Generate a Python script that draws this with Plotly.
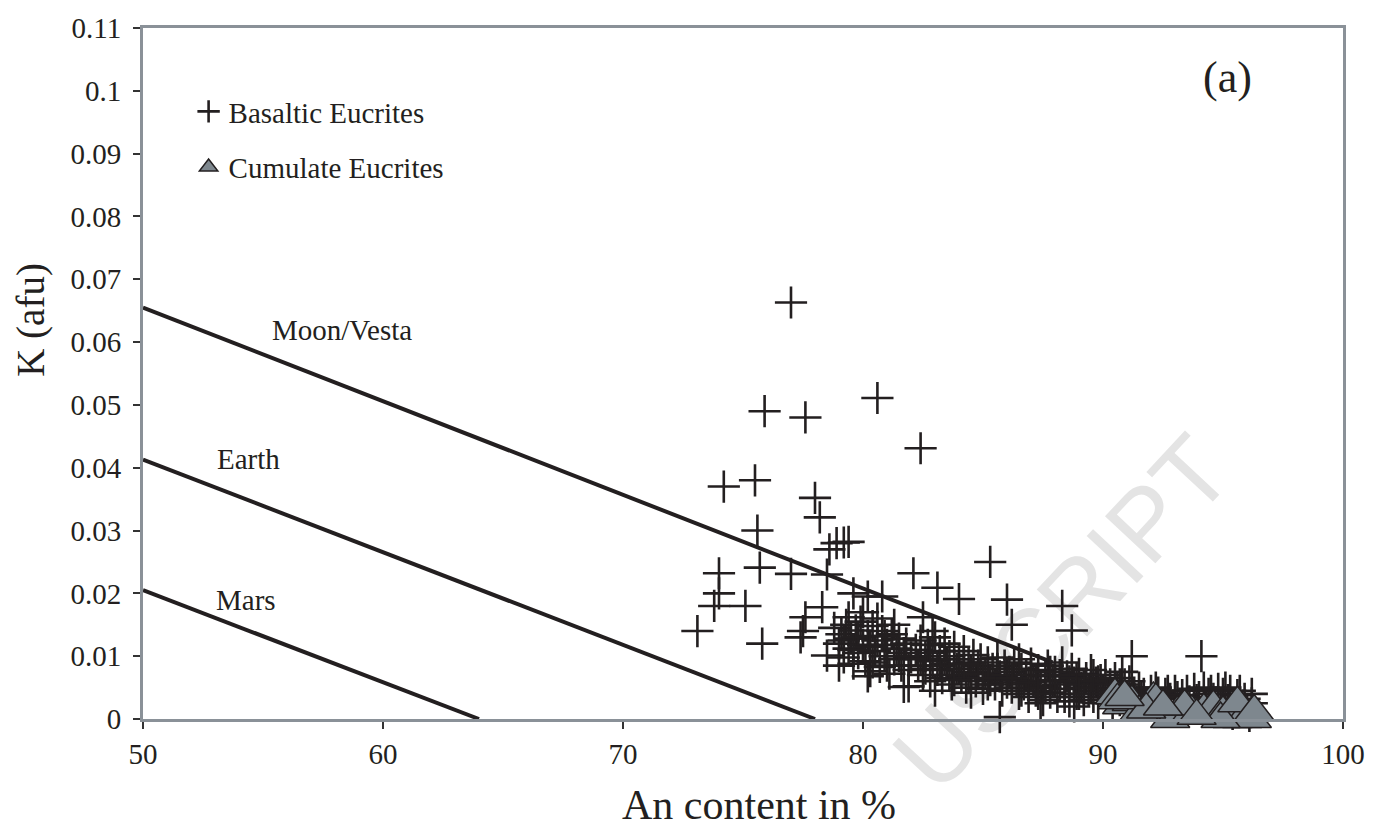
import plotly.graph_objects as go

# ---------------- data ----------------
basaltic_an = [
    # sparse outliers
    77.0, 75.9, 77.6, 80.6, 82.4, 74.2, 75.5, 78.0, 78.2, 75.6, 78.9, 79.2, 79.4, 78.6,
    75.7, 74.0, 77.0, 78.5, 82.1, 83.1, 84.0, 74.0, 73.8, 75.1, 73.1, 75.8, 77.6, 77.5,
    77.4, 78.3, 78.5, 82.5, 81.7, 81.9, 79.6, 80.2, 80.8, 85.3, 86.0, 86.2, 88.3, 88.7,
    91.2, 94.1, 85.7,
    # cluster 79-82
    78.8, 79.0, 79.1, 79.2, 79.3, 79.4, 79.5, 79.6, 79.7, 79.8, 79.9, 80.0, 80.1, 80.2,
    80.3, 80.4, 80.5, 80.6, 80.7, 80.8, 80.9, 81.0, 81.1, 81.2, 81.3, 81.4, 81.5, 81.6,
    81.7, 81.8, 81.9, 82.0, 79.4, 80.0, 80.6, 80.2, 79.0, 81.3,
    79.2, 79.8, 80.4, 80.9, 81.5, 81.0, 79.6, 80.3,
    # cluster 82-86
    82.2, 82.3, 82.4, 82.5, 82.6, 82.7, 82.8, 82.9, 83.0, 83.1, 83.2, 83.3, 83.4, 83.5,
    83.6, 83.7, 83.8, 83.9, 84.0, 84.1, 84.2, 84.3, 84.4, 84.5, 84.6, 84.7, 84.8, 84.9,
    85.0, 85.1, 85.2, 85.3, 85.4, 85.5, 85.6, 85.7, 85.8, 85.9, 86.0, 83.0, 84.5, 82.9,
    82.4, 82.8, 83.2, 83.6, 84.0, 84.4, 84.8, 85.2, 85.6, 86.0, 83.4, 84.2, 85.0, 83.8,
    82.6,
    # cluster 86-90
    86.1, 86.2, 86.3, 86.4, 86.5, 86.6, 86.7, 86.8, 86.9, 87.0, 87.1, 87.2, 87.3, 87.4,
    87.5, 87.6, 87.7, 87.8, 87.9, 88.0, 88.1, 88.2, 88.3, 88.4, 88.5, 88.6, 88.7, 88.8,
    88.9, 89.0, 89.1, 89.2, 89.3, 89.4, 89.5, 89.6, 89.7, 89.8, 89.9, 90.0, 86.5, 87.4,
    88.8,
    86.2, 86.6, 87.0, 87.2, 87.6, 88.0, 88.2, 88.6, 88.9, 89.2, 89.5, 89.8, 87.8, 86.9,
    88.4, 89.0, 89.6, 87.3,
    # cluster 90-96
    90.1, 90.2, 90.3, 90.4, 90.5, 90.6, 90.7, 90.8, 90.9, 91.0, 91.1, 91.3, 91.4, 91.5,
    91.7, 91.8, 92.0, 92.1, 92.3, 92.5, 92.6, 92.8, 93.0, 93.2, 93.3, 93.5, 93.6, 93.8,
    94.0, 94.2, 94.3, 94.5, 94.6, 94.8, 94.9, 95.0, 95.2, 95.3, 95.5, 95.6, 95.8, 95.9,
    96.0, 96.2, 96.1, 95.4,
    90.3, 90.7, 91.2, 91.6, 92.2, 92.7, 93.1, 93.9, 94.4, 95.1, 95.7, 96.2,
]
basaltic_k = [
    0.0663, 0.0490, 0.0480, 0.0511, 0.0431, 0.0370, 0.0380, 0.0352, 0.0321, 0.0300, 0.0280, 0.0281, 0.0282, 0.0270,
    0.0241, 0.0232, 0.0231, 0.0230, 0.0232, 0.0209, 0.0191, 0.0200, 0.0180, 0.0180, 0.0140, 0.0120, 0.0162, 0.0140,
    0.0130, 0.0178, 0.0101, 0.0162, 0.0051, 0.0052, 0.0200, 0.0195, 0.0195, 0.0250, 0.0190, 0.0150, 0.0180, 0.0141,
    0.0100, 0.0100, 0.0003,
    0.0145, 0.0120, 0.0135, 0.0098, 0.0150, 0.0112, 0.0128, 0.0088, 0.0141, 0.0105, 0.0155, 0.0118, 0.0092, 0.0132,
    0.0076, 0.0148, 0.0108, 0.0125, 0.0083, 0.0140, 0.0100, 0.0118, 0.0072, 0.0135, 0.0095, 0.0112, 0.0128, 0.0085,
    0.0105, 0.0120, 0.0078, 0.0098, 0.0162, 0.0170, 0.0160, 0.0068, 0.0085, 0.0150,
    0.0125, 0.0130, 0.0090, 0.0132, 0.0100, 0.0085, 0.0110, 0.0115,
    0.0110, 0.0085, 0.0125, 0.0070, 0.0100, 0.0118, 0.0060, 0.0092, 0.0130, 0.0078, 0.0108, 0.0065, 0.0120, 0.0088,
    0.0100, 0.0055, 0.0115, 0.0080, 0.0095, 0.0068, 0.0108, 0.0050, 0.0090, 0.0075, 0.0102, 0.0060, 0.0085, 0.0095,
    0.0048, 0.0072, 0.0090, 0.0062, 0.0080, 0.0055, 0.0098, 0.0068, 0.0045, 0.0085, 0.0058, 0.0045, 0.0042, 0.0140,
    0.0095, 0.0105, 0.0085, 0.0070, 0.0080, 0.0065, 0.0072, 0.0055, 0.0080, 0.0070, 0.0095, 0.0088, 0.0065, 0.0062,
    0.0080,
    0.0075, 0.0050, 0.0090, 0.0062, 0.0040, 0.0080, 0.0055, 0.0070, 0.0035, 0.0088, 0.0060, 0.0045, 0.0078, 0.0052,
    0.0030, 0.0068, 0.0085, 0.0042, 0.0062, 0.0075, 0.0035, 0.0055, 0.0090, 0.0048, 0.0068, 0.0028, 0.0080, 0.0058,
    0.0040, 0.0072, 0.0050, 0.0030, 0.0065, 0.0045, 0.0078, 0.0035, 0.0058, 0.0025, 0.0062, 0.0045, 0.0095, 0.0025,
    0.0020,
    0.0065, 0.0045, 0.0070, 0.0060, 0.0050, 0.0060, 0.0070, 0.0060, 0.0065, 0.0055, 0.0050, 0.0060, 0.0075, 0.0058,
    0.0035, 0.0040, 0.0070, 0.0040,
    0.0070, 0.0040, 0.0055, 0.0025, 0.0065, 0.0048, 0.0030, 0.0075, 0.0055, 0.0035, 0.0060, 0.0042, 0.0028, 0.0050,
    0.0040, 0.0022, 0.0045, 0.0030, 0.0042, 0.0025, 0.0040, 0.0032, 0.0045, 0.0020, 0.0038, 0.0045, 0.0028, 0.0048,
    0.0035, 0.0050, 0.0025, 0.0045, 0.0032, 0.0048, 0.0020, 0.0040, 0.0030, 0.0045, 0.0025, 0.0038, 0.0020, 0.0032,
    0.0012, 0.0025, 0.0005, 0.0008,
    0.0040, 0.0055, 0.0048, 0.0035, 0.0050, 0.0045, 0.0035, 0.0030, 0.0040, 0.0050, 0.0045, 0.0040,
]

cumulate_an = [90.5, 90.8, 91.2, 91.5, 92.1, 92.2, 92.8, 93.1, 93.7, 94.2, 94.6, 95.0,
               95.4, 95.8, 96.2, 90.6, 91.8, 93.4, 94.9, 95.6, 90.9, 92.5, 93.9, 96.3]
cumulate_k = [0.0038, 0.0022, 0.0027, 0.0011, 0.0032, 0.0030, 0.0000, 0.0010, 0.0011, 0.0014, 0.0019, 0.0010,
              0.0000, 0.0000, 0.0000, 0.0030, 0.0015, 0.0020, 0.0000, 0.0025, 0.0035, 0.0020, 0.0005, 0.0012]

moon_an = [50, 87.9]
moon_k = [0.0655, 0.0090]
earth_an = [50, 78]
earth_k = [0.0413, 0.0]
mars_an = [50, 64]
mars_k = [0.0205, 0.0]

x_ticks = [50, 60, 70, 80, 90, 100]
y_ticks = [0, 0.01, 0.02, 0.03, 0.04, 0.05, 0.06, 0.07, 0.08, 0.09, 0.1, 0.11]
y_ticktext = ["0", "0.01", "0.02", "0.03", "0.04", "0.05", "0.06", "0.07", "0.08", "0.09", "0.1", "0.11"]

# ---------------- figure ----------------
FONT = "Liberation Serif, Times New Roman, serif"
INK = "#231f20"
AXIS_GREY = "#8a9198"

fig = go.Figure()

for xs, ys in [(moon_an, moon_k), (earth_an, earth_k), (mars_an, mars_k)]:
    fig.add_trace(go.Scatter(x=xs, y=ys, mode="lines", line=dict(color=INK, width=4),
                             showlegend=False, hoverinfo="skip"))

fig.add_trace(go.Scatter(
    x=basaltic_an, y=basaltic_k, mode="markers", name="Basaltic Eucrites",
    marker=dict(symbol="cross-thin", size=23, line=dict(color=INK, width=2.6)),
    cliponaxis=False, legendgroup="a",
))
fig.add_trace(go.Scatter(
    x=cumulate_an, y=cumulate_k, mode="markers", name="Cumulate Eucrites",
    marker=dict(symbol="triangle-up", size=34, color="#7e878e", line=dict(color=INK, width=1.5)),
    cliponaxis=False, legendgroup="b",
))

for txt, x, y in [("Moon/Vesta", 58.3, 0.0620), ("Earth", 54.4, 0.0414), ("Mars", 54.3, 0.0190)]:
    fig.add_annotation(x=x, y=y, text=txt, showarrow=False,
                       font=dict(family=FONT, size=29, color=INK))
fig.add_annotation(x=95.2, y=0.1022, text="(a)", showarrow=False,
                   font=dict(family=FONT, size=44, color=INK))

# axis titles (placed as in the reference)
fig.add_annotation(xref="paper", yref="paper", x=0.5133, y=-0.125, xanchor="center", yanchor="middle",
                   text="An content in %", showarrow=False,
                   font=dict(family=FONT, size=42, color=INK))
fig.add_annotation(xref="paper", x=-0.094, yref="paper", y=0.578, xanchor="center", yanchor="middle",
                   text="K (afu)", textangle=-90, showarrow=False,
                   font=dict(family=FONT, size=39, color=INK))

# faint watermark of the source page
fig.add_shape(type="rect", xref="paper", yref="paper", x0=0.755, x1=0.765, y0=0.158, y1=0.168,
              line=dict(width=0), fillcolor="rgba(0,0,0,0)", layer="below",
              label=dict(text="USCRIPT", textangle=-47, textposition="middle center",
                         font=dict(family="Liberation Sans, Arial, sans-serif", size=100, color="#e4e4e4")))

axis_common = dict(showline=True, linecolor=AXIS_GREY, linewidth=3, mirror=True,
                   ticks="outside", ticklen=7, tickwidth=1.5, tickcolor="#333333",
                   showgrid=False, zeroline=False,
                   tickfont=dict(family=FONT, size=29, color=INK))

fig.update_xaxes(range=[50, 100], tickvals=x_ticks, ticklabelstandoff=0, **axis_common)
fig.update_yaxes(range=[0, 0.11], tickvals=y_ticks, ticktext=y_ticktext, ticklabelstandoff=6, **axis_common)

fig.update_layout(
    width=1383, height=827,
    margin=dict(l=143, r=40, t=24, b=108),
    paper_bgcolor="white", plot_bgcolor="rgba(0,0,0,0)",
    font=dict(family=FONT, color=INK),
    legend=dict(x=0.038, y=0.916, xanchor="left", yanchor="top", bgcolor="rgba(0,0,0,0)",
                font=dict(family=FONT, size=29, color=INK), tracegroupgap=15, traceorder="grouped"),
    showlegend=True,
)

fig.write_html("out.html")
